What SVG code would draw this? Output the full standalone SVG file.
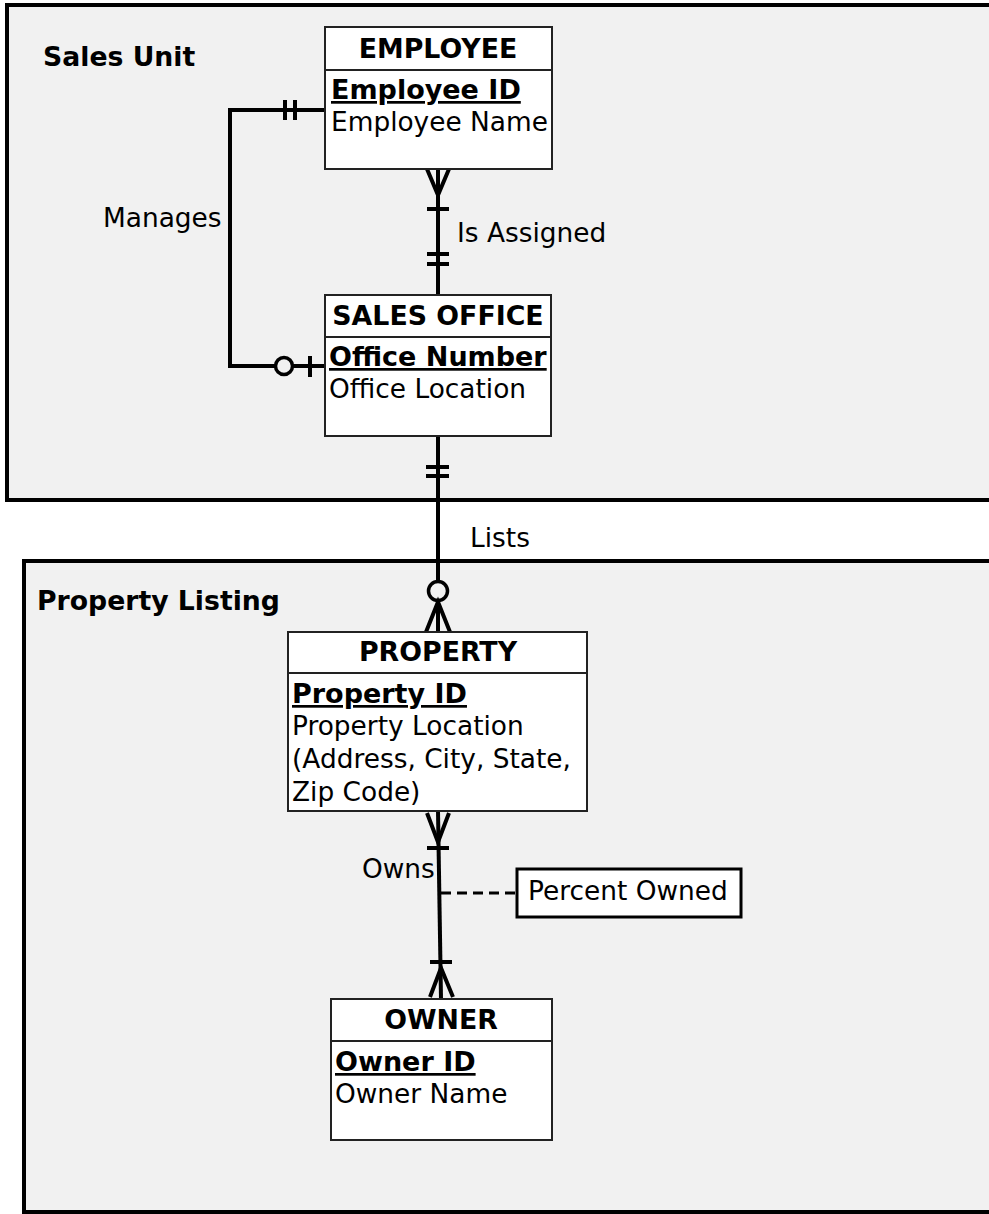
<svg xmlns="http://www.w3.org/2000/svg" width="989" height="1214" viewBox="0 0 989 1214">
  <style>
    text { font-family: "DejaVu Sans", Verdana, sans-serif; font-size: 26.4px; fill: #000; }
    .b { font-weight: bold; font-size: 26.7px; }
    .u { font-weight: bold; font-size: 27px; text-decoration: underline; }
    .hd { font-weight: bold; font-size: 26.8px; text-anchor: middle; }
    .container { fill: #f1f1f1; stroke: #000; stroke-width: 4; }
    .entity { fill: #fff; stroke: #222; stroke-width: 2; }
    .div { stroke: #222; stroke-width: 2; }
    .ln { fill: none; stroke: #000; stroke-width: 4; }
    .dash { fill: none; stroke: #000; stroke-width: 3; stroke-dasharray: 10 6; }
    .ring { fill: #f1f1f1; stroke: #000; stroke-width: 3.5; }
  </style>
  <rect width="989" height="1214" fill="#fff"/>

  <!-- containers -->
  <g id="sales-unit">
    <rect class="container" x="7" y="5" width="1000" height="495"/>
    <text class="b" x="43" y="66">Sales Unit</text>
  </g>
  <g id="property-listing">
    <rect class="container" x="24" y="561" width="1000" height="651"/>
    <text class="b" x="37" y="610">Property Listing</text>
  </g>

  <!-- relationship lines -->
  <g id="connectors">
    <!-- Manages -->
    <path class="ln" d="M325,110 H230 V366 H325"/>
    <path class="ln" d="M285,100 V120 M295,100 V120"/>
    <circle class="ring" cx="284" cy="366" r="8.5"/>
    <path class="ln" d="M310,356 V377"/>
    <text x="103" y="227">Manages</text>

    <!-- Is Assigned -->
    <path class="ln" d="M438,169 V295"/>
    <path class="ln" d="M427,169 L438,195 L449,169"/>
    <path class="ln" d="M427,209 H449 M427,254 H449 M427,264 H449"/>
    <text x="457" y="242">Is Assigned</text>

    <!-- Lists -->
    <path class="ln" d="M438,436 V632"/>
    <path class="ln" d="M426,467 H449 M426,476 H449"/>
    <circle class="ring" cx="438" cy="591" r="9.5"/>
    <path class="ln" d="M426,632 L438,602 L450,632"/>
    <text x="470" y="547">Lists</text>

    <!-- Owns -->
    <path class="ln" d="M438,811 L441,999"/>
    <path class="ln" d="M427,813 L438,842 L449,813"/>
    <path class="ln" d="M427,848 H449 M430,962 H452"/>
    <path class="ln" d="M430,997 L441,968 L453,997"/>
    <path class="dash" d="M441,893 H517"/>
    <text x="362" y="878">Owns</text>
  </g>

  <!-- entities -->
  <g id="employee">
    <rect class="entity" x="325" y="27" width="227" height="142"/>
    <line class="div" x1="325" y1="70" x2="552" y2="70"/>
    <text class="hd" x="438" y="58">EMPLOYEE</text>
    <text class="u" x="331" y="99">Employee ID</text>
    <text x="331" y="131">Employee Name</text>
  </g>

  <g id="sales-office">
    <rect class="entity" x="325" y="295" width="226" height="141"/>
    <line class="div" x1="325" y1="337" x2="551" y2="337"/>
    <text class="hd" x="438" y="325">SALES OFFICE</text>
    <text class="u" x="329" y="366">Office Number</text>
    <text x="329" y="398">Office Location</text>
  </g>

  <g id="property">
    <rect class="entity" x="288" y="632" width="299" height="179"/>
    <line class="div" x1="288" y1="673" x2="587" y2="673"/>
    <text class="hd" x="438" y="661">PROPERTY</text>
    <text class="u" x="292" y="703">Property ID</text>
    <text x="292" y="735">Property Location</text>
    <text x="292" y="768">(Address, City, State,</text>
    <text x="292" y="801">Zip Code)</text>
  </g>

  <g id="owner">
    <rect class="entity" x="331" y="999" width="221" height="141"/>
    <line class="div" x1="331" y1="1041" x2="552" y2="1041"/>
    <text class="hd" x="441" y="1029">OWNER</text>
    <text class="u" x="335" y="1071">Owner ID</text>
    <text x="335" y="1103">Owner Name</text>
  </g>

  <g id="percent-owned">
    <rect x="517" y="869" width="224" height="48" fill="#fff" stroke="#000" stroke-width="3"/>
    <text x="528" y="900">Percent Owned</text>
  </g>
</svg>
